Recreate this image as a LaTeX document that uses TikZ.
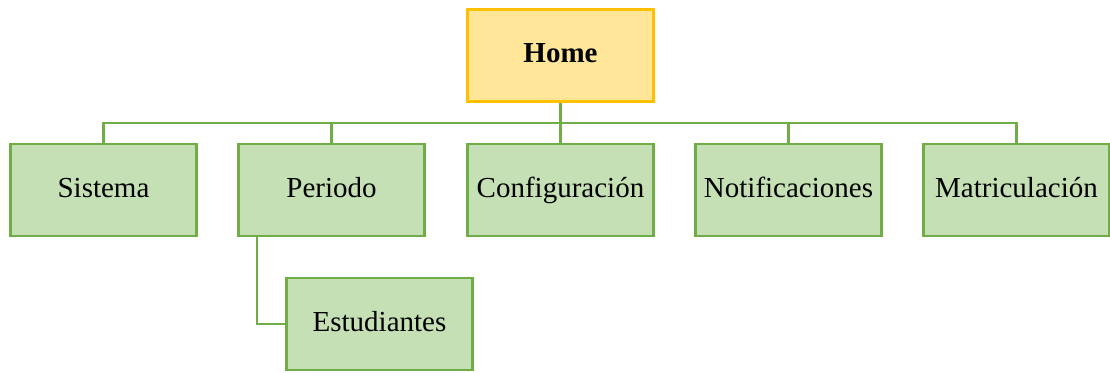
\documentclass[tikz,border=0pt]{standalone}
\usepackage{fontspec}
\setmainfont{Liberation Serif}
\usepackage{xcolor}
\usepackage{tikz}
\usetikzlibrary{calc}

\definecolor{leafgreen}{HTML}{C5E0B4}
\definecolor{edgegreen}{HTML}{70AD47}
\definecolor{homeyellow}{HTML}{FFE699}
\definecolor{homeedge}{HTML}{FFC000}

\tikzset{
	menubox/.style={draw=edgegreen, fill=leafgreen, line width=2.5bp,
		minimum width=186bp, minimum height=92bp, inner sep=0pt,
		text height=20bp, text depth=6bp,
		font=\fontsize{29bp}{32bp}\selectfont},
	homebox/.style={menubox, draw=homeedge, fill=homeyellow,
		font=\fontsize{29bp}{32bp}\selectfont\bfseries},
	link/.style={draw=edgegreen, line width=2.2bp},
	sublink/.style={draw=edgegreen, line width=1.2bp}
}

\begin{document}
\begin{tikzpicture}[x=1bp,y=-1bp]
		\useasboundingbox (0,0) rectangle (1110,372);
		% top level
		\node[homebox] (home) at (560.5,55.5) {Home};
		% menu entries
		\node[menubox] (sis) at (103.5,190) {Sistema};
		\node[menubox] (per) at (331.5,190) {Periodo};
		\node[menubox] (conf) at (560.5,190) {Configuración};
		\node[menubox] (noti) at (788.5,190) {Notificaciones};
		\node[menubox] (mat) at (1016.5,190) {Matriculación};
		\node[menubox] (est) at (379.5,324) {Estudiantes};
		% bus
		\coordinate (bus) at (560.5,123);
		\draw[link] (home.south) -- (bus);
		\foreach \n in {sis,per,conf,noti,mat}
			\draw[link] (bus) -| (\n.north);
		\draw[sublink] ([xshift=-74.5bp]per.south) |- (est.west);
	\end{tikzpicture}
\end{document}
